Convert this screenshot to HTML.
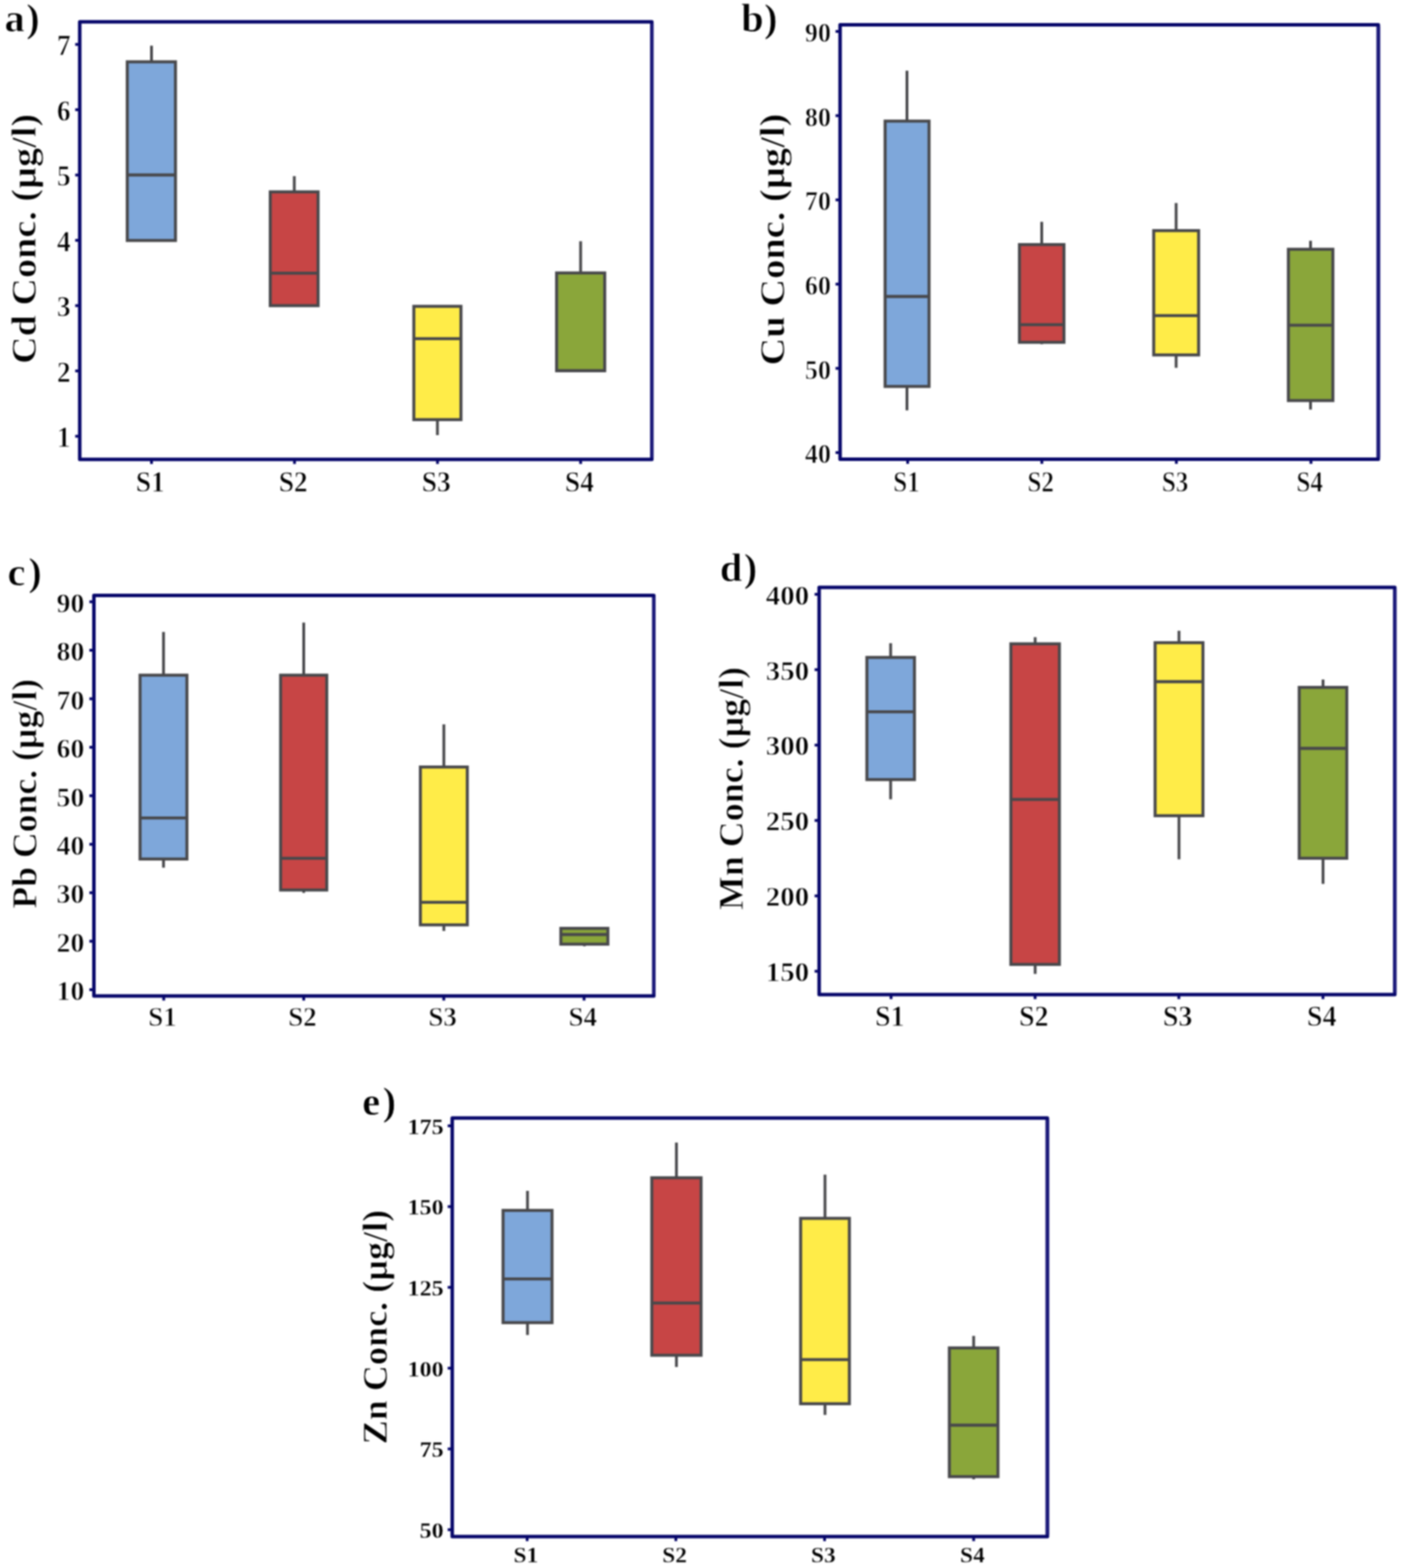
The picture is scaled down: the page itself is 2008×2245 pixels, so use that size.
<!DOCTYPE html>
<html><head><meta charset="utf-8"><title>Box plots</title>
<style>
html,body{margin:0;padding:0;background:#fff;}
body{width:2008px;height:2245px;overflow:hidden;}
svg{display:block;filter:blur(0.8px);}
text{font-family:'Liberation Serif', 'Times New Roman', serif;font-weight:bold;fill:#000;stroke:#fff;stroke-width:0.9px;}
.e text.tk{stroke-width:0.3px;}
</style></head><body>
<svg width="2008" height="2245" viewBox="0 0 2008 2245">
<rect x="0" y="0" width="2008" height="2245" fill="#fff"/>

<g id="panel-a" class="a">
<line x1="217" y1="65.4" x2="217" y2="88.5" stroke="#48484b" stroke-width="4"/>
<rect x="182.3" y="88.5" width="69" height="255.8" fill="#7ea7da" stroke="#48484b" stroke-width="4.3"/>
<line x1="182.3" y1="250.5" x2="251.3" y2="250.5" stroke="#48484b" stroke-width="4.3"/>
<line x1="421.5" y1="252.2" x2="421.5" y2="274.7" stroke="#48484b" stroke-width="4"/>
<rect x="387.1" y="274.7" width="68.5" height="162.9" fill="#c74545" stroke="#48484b" stroke-width="4.3"/>
<line x1="387.1" y1="391.2" x2="455.6" y2="391.2" stroke="#48484b" stroke-width="4.3"/>
<line x1="626.5" y1="600.8" x2="626.5" y2="623" stroke="#48484b" stroke-width="4"/>
<rect x="592.7" y="438.6" width="67.5" height="162.2" fill="#ffec48" stroke="#48484b" stroke-width="4.3"/>
<line x1="592.7" y1="484.9" x2="660.2" y2="484.9" stroke="#48484b" stroke-width="4.3"/>
<line x1="831.6" y1="345.4" x2="831.6" y2="390.8" stroke="#48484b" stroke-width="4"/>
<rect x="797.2" y="390.8" width="68.9" height="140" fill="#8aa63a" stroke="#48484b" stroke-width="4.3"/>
<line x1="797.2" y1="530.8" x2="866.1" y2="530.8" stroke="#48484b" stroke-width="4.3"/>
<rect x="114.2" y="31.3" width="819.4" height="626.5" fill="none" stroke="#06066a" stroke-width="5" stroke-linejoin="round"/>
<line x1="933.6" y1="33.8" x2="933.6" y2="655.3" stroke="#1c1a7a" stroke-width="5"/>
<line x1="107.7" y1="624.6" x2="114.2" y2="624.6" stroke="#06066a" stroke-width="4"/>
<line x1="107.7" y1="531.1" x2="114.2" y2="531.1" stroke="#06066a" stroke-width="4"/>
<line x1="107.7" y1="437.6" x2="114.2" y2="437.6" stroke="#06066a" stroke-width="4"/>
<line x1="107.7" y1="344.1" x2="114.2" y2="344.1" stroke="#06066a" stroke-width="4"/>
<line x1="107.7" y1="250.6" x2="114.2" y2="250.6" stroke="#06066a" stroke-width="4"/>
<line x1="107.7" y1="157.1" x2="114.2" y2="157.1" stroke="#06066a" stroke-width="4"/>
<line x1="107.7" y1="63.6" x2="114.2" y2="63.6" stroke="#06066a" stroke-width="4"/>
<line x1="217" y1="657.8" x2="217" y2="664.3" stroke="#06066a" stroke-width="4"/>
<line x1="421.8" y1="657.8" x2="421.8" y2="664.3" stroke="#06066a" stroke-width="4"/>
<line x1="626.6" y1="657.8" x2="626.6" y2="664.3" stroke="#06066a" stroke-width="4"/>
<line x1="831.6" y1="657.8" x2="831.6" y2="664.3" stroke="#06066a" stroke-width="4"/>
<text class="tk" text-anchor="end" font-size="39.4" transform="translate(101.3 640.1) scale(1 1.06)">1</text>
<text class="tk" text-anchor="end" font-size="39.4" transform="translate(101.3 546.6) scale(1 1.06)">2</text>
<text class="tk" text-anchor="end" font-size="39.4" transform="translate(101.3 453.1) scale(1 1.06)">3</text>
<text class="tk" text-anchor="end" font-size="39.4" transform="translate(101.3 359.6) scale(1 1.06)">4</text>
<text class="tk" text-anchor="end" font-size="39.4" transform="translate(101.3 266.1) scale(1 1.06)">5</text>
<text class="tk" text-anchor="end" font-size="39.4" transform="translate(101.3 172.6) scale(1 1.06)">6</text>
<text class="tk" text-anchor="end" font-size="39.4" transform="translate(101.3 79.1) scale(1 1.06)">7</text>
<text class="tk" text-anchor="middle" font-size="39.3" transform="translate(215.2 704.2) scale(1 1.063)">S1</text>
<text class="tk" text-anchor="middle" font-size="39.3" transform="translate(420 704.2) scale(1 1.063)">S2</text>
<text class="tk" text-anchor="middle" font-size="39.3" transform="translate(624.8 704.2) scale(1 1.063)">S3</text>
<text class="tk" text-anchor="middle" font-size="39.3" transform="translate(829.8 704.2) scale(1 1.063)">S4</text>
<text font-size="50" transform="translate(50.6 520.9) rotate(-90) scale(1.093 1)">Cd Conc. (µg/l)</text>
<text font-size="58" x="6.5" y="45">a<tspan dx="2">)</tspan></text>
</g>
<g id="panel-b" class="b">
<line x1="1299" y1="101.2" x2="1299" y2="173.4" stroke="#48484b" stroke-width="4"/>
<line x1="1299" y1="553.3" x2="1299" y2="587.5" stroke="#48484b" stroke-width="4"/>
<rect x="1267.7" y="173.4" width="62.9" height="379.9" fill="#7ea7da" stroke="#48484b" stroke-width="4.3"/>
<line x1="1267.7" y1="424.5" x2="1330.6" y2="424.5" stroke="#48484b" stroke-width="4.3"/>
<line x1="1492" y1="317.6" x2="1492" y2="350.2" stroke="#48484b" stroke-width="4"/>
<line x1="1492" y1="490.1" x2="1492" y2="492.7" stroke="#48484b" stroke-width="4"/>
<rect x="1460.1" y="350.2" width="63.7" height="139.9" fill="#c74545" stroke="#48484b" stroke-width="4.3"/>
<line x1="1460.1" y1="464.9" x2="1523.8" y2="464.9" stroke="#48484b" stroke-width="4.3"/>
<line x1="1684.5" y1="290.7" x2="1684.5" y2="330.2" stroke="#48484b" stroke-width="4"/>
<line x1="1684.5" y1="508.2" x2="1684.5" y2="526.6" stroke="#48484b" stroke-width="4"/>
<rect x="1652.4" y="330.2" width="64.3" height="178" fill="#ffec48" stroke="#48484b" stroke-width="4.3"/>
<line x1="1652.4" y1="451.9" x2="1716.7" y2="451.9" stroke="#48484b" stroke-width="4.3"/>
<line x1="1877" y1="344.7" x2="1877" y2="356.9" stroke="#48484b" stroke-width="4"/>
<line x1="1877" y1="573.5" x2="1877" y2="586.4" stroke="#48484b" stroke-width="4"/>
<rect x="1845.3" y="356.9" width="63.7" height="216.6" fill="#8aa63a" stroke="#48484b" stroke-width="4.3"/>
<line x1="1845.3" y1="465.7" x2="1909" y2="465.7" stroke="#48484b" stroke-width="4.3"/>
<rect x="1203.2" y="35.4" width="770.9" height="622.2" fill="none" stroke="#06066a" stroke-width="5" stroke-linejoin="round"/>
<line x1="1974.1" y1="37.9" x2="1974.1" y2="655.1" stroke="#1c1a7a" stroke-width="5"/>
<line x1="1196.7" y1="648" x2="1203.2" y2="648" stroke="#06066a" stroke-width="4"/>
<line x1="1196.7" y1="527.4" x2="1203.2" y2="527.4" stroke="#06066a" stroke-width="4"/>
<line x1="1196.7" y1="406.8" x2="1203.2" y2="406.8" stroke="#06066a" stroke-width="4"/>
<line x1="1196.7" y1="286.2" x2="1203.2" y2="286.2" stroke="#06066a" stroke-width="4"/>
<line x1="1196.7" y1="165.6" x2="1203.2" y2="165.6" stroke="#06066a" stroke-width="4"/>
<line x1="1196.7" y1="45" x2="1203.2" y2="45" stroke="#06066a" stroke-width="4"/>
<line x1="1300" y1="657.6" x2="1300" y2="664.1" stroke="#06066a" stroke-width="4"/>
<line x1="1492.2" y1="657.6" x2="1492.2" y2="664.1" stroke="#06066a" stroke-width="4"/>
<line x1="1684.8" y1="657.6" x2="1684.8" y2="664.1" stroke="#06066a" stroke-width="4"/>
<line x1="1877.6" y1="657.6" x2="1877.6" y2="664.1" stroke="#06066a" stroke-width="4"/>
<text class="tk" text-anchor="end" font-size="37.3" transform="translate(1190.1 663.2) scale(1 1.1)">40</text>
<text class="tk" text-anchor="end" font-size="37.3" transform="translate(1190.1 542.6) scale(1 1.1)">50</text>
<text class="tk" text-anchor="end" font-size="37.3" transform="translate(1190.1 422) scale(1 1.1)">60</text>
<text class="tk" text-anchor="end" font-size="37.3" transform="translate(1190.1 301.4) scale(1 1.1)">70</text>
<text class="tk" text-anchor="end" font-size="37.3" transform="translate(1190.1 180.8) scale(1 1.1)">80</text>
<text class="tk" text-anchor="end" font-size="37.3" transform="translate(1190.1 60.2) scale(1 1.1)">90</text>
<text class="tk" text-anchor="middle" font-size="36" transform="translate(1298.2 704.4) scale(1 1.16)">S1</text>
<text class="tk" text-anchor="middle" font-size="36" transform="translate(1490.4 704.4) scale(1 1.16)">S2</text>
<text class="tk" text-anchor="middle" font-size="36" transform="translate(1683 704.4) scale(1 1.16)">S3</text>
<text class="tk" text-anchor="middle" font-size="36" transform="translate(1875.8 704.4) scale(1 1.16)">S4</text>
<text font-size="50" transform="translate(1123 523.2) rotate(-90) scale(1.1015 1)">Cu Conc. (µg/l)</text>
<text font-size="58" x="1061.6" y="45">b<tspan dx="0.5">)</tspan></text>
</g>
<g id="panel-c" class="c">
<line x1="234.2" y1="904.8" x2="234.2" y2="966.7" stroke="#48484b" stroke-width="4"/>
<line x1="234.2" y1="1229.9" x2="234.2" y2="1242.3" stroke="#48484b" stroke-width="4"/>
<rect x="200.6" y="966.7" width="67.1" height="263.2" fill="#7ea7da" stroke="#48484b" stroke-width="4.3"/>
<line x1="200.6" y1="1171.1" x2="267.7" y2="1171.1" stroke="#48484b" stroke-width="4.3"/>
<line x1="435" y1="891.4" x2="435" y2="966.7" stroke="#48484b" stroke-width="4"/>
<line x1="435" y1="1274.3" x2="435" y2="1278.4" stroke="#48484b" stroke-width="4"/>
<rect x="401.9" y="966.7" width="66.1" height="307.6" fill="#c74545" stroke="#48484b" stroke-width="4.3"/>
<line x1="401.9" y1="1228.9" x2="468" y2="1228.9" stroke="#48484b" stroke-width="4.3"/>
<line x1="635.7" y1="1037.1" x2="635.7" y2="1098.2" stroke="#48484b" stroke-width="4"/>
<line x1="635.7" y1="1324.2" x2="635.7" y2="1332.9" stroke="#48484b" stroke-width="4"/>
<rect x="602.1" y="1098.2" width="67.2" height="226" fill="#ffec48" stroke="#48484b" stroke-width="4.3"/>
<line x1="602.1" y1="1291.9" x2="669.3" y2="1291.9" stroke="#48484b" stroke-width="4.3"/>
<line x1="837" y1="1351.8" x2="837" y2="1354.8" stroke="#48484b" stroke-width="4"/>
<rect x="803.3" y="1329.2" width="67.3" height="22.6" fill="#8aa63a" stroke="#48484b" stroke-width="4.3"/>
<line x1="803.3" y1="1338" x2="870.6" y2="1338" stroke="#48484b" stroke-width="4.3"/>
<rect x="134.5" y="852.6" width="801.9" height="573.4" fill="none" stroke="#06066a" stroke-width="5" stroke-linejoin="round"/>
<line x1="936.4" y1="855.1" x2="936.4" y2="1423.5" stroke="#1c1a7a" stroke-width="5"/>
<line x1="128" y1="1417" x2="134.5" y2="1417" stroke="#06066a" stroke-width="4"/>
<line x1="128" y1="1347.6" x2="134.5" y2="1347.6" stroke="#06066a" stroke-width="4"/>
<line x1="128" y1="1278.2" x2="134.5" y2="1278.2" stroke="#06066a" stroke-width="4"/>
<line x1="128" y1="1208.8" x2="134.5" y2="1208.8" stroke="#06066a" stroke-width="4"/>
<line x1="128" y1="1139.3" x2="134.5" y2="1139.3" stroke="#06066a" stroke-width="4"/>
<line x1="128" y1="1069.9" x2="134.5" y2="1069.9" stroke="#06066a" stroke-width="4"/>
<line x1="128" y1="1000.5" x2="134.5" y2="1000.5" stroke="#06066a" stroke-width="4"/>
<line x1="128" y1="931" x2="134.5" y2="931" stroke="#06066a" stroke-width="4"/>
<line x1="128" y1="861.6" x2="134.5" y2="861.6" stroke="#06066a" stroke-width="4"/>
<line x1="234.5" y1="1426" x2="234.5" y2="1432.5" stroke="#06066a" stroke-width="4"/>
<line x1="435" y1="1426" x2="435" y2="1432.5" stroke="#06066a" stroke-width="4"/>
<line x1="635.6" y1="1426" x2="635.6" y2="1432.5" stroke="#06066a" stroke-width="4"/>
<line x1="836.5" y1="1426" x2="836.5" y2="1432.5" stroke="#06066a" stroke-width="4"/>
<text class="tk" text-anchor="end" font-size="39.7" transform="translate(120.8 1432.3) scale(1 1.034)">10</text>
<text class="tk" text-anchor="end" font-size="39.7" transform="translate(120.8 1362.9) scale(1 1.034)">20</text>
<text class="tk" text-anchor="end" font-size="39.7" transform="translate(120.8 1293.4) scale(1 1.034)">30</text>
<text class="tk" text-anchor="end" font-size="39.7" transform="translate(120.8 1224) scale(1 1.034)">40</text>
<text class="tk" text-anchor="end" font-size="39.7" transform="translate(120.8 1154.6) scale(1 1.034)">50</text>
<text class="tk" text-anchor="end" font-size="39.7" transform="translate(120.8 1085.1) scale(1 1.034)">60</text>
<text class="tk" text-anchor="end" font-size="39.7" transform="translate(120.8 1015.7) scale(1 1.034)">70</text>
<text class="tk" text-anchor="end" font-size="39.7" transform="translate(120.8 946.3) scale(1 1.034)">80</text>
<text class="tk" text-anchor="end" font-size="39.7" transform="translate(120.8 876.9) scale(1 1.034)">90</text>
<text class="tk" text-anchor="middle" font-size="38.7" transform="translate(232.7 1469) scale(1 1.018)">S1</text>
<text class="tk" text-anchor="middle" font-size="38.7" transform="translate(433.2 1469) scale(1 1.018)">S2</text>
<text class="tk" text-anchor="middle" font-size="38.7" transform="translate(633.8 1469) scale(1 1.018)">S3</text>
<text class="tk" text-anchor="middle" font-size="38.7" transform="translate(834.7 1469) scale(1 1.018)">S4</text>
<text font-size="50" transform="translate(51.8 1301) rotate(-90) scale(1.0225 1)">Pb Conc. (µg/l)</text>
<text font-size="58" x="10.8" y="837.5">c<tspan dx="4">)</tspan></text>
</g>
<g id="panel-d" class="d">
<line x1="1275.6" y1="920.9" x2="1275.6" y2="941.3" stroke="#48484b" stroke-width="4"/>
<line x1="1275.6" y1="1116.2" x2="1275.6" y2="1144.4" stroke="#48484b" stroke-width="4"/>
<rect x="1241.6" y="941.3" width="68.1" height="174.9" fill="#7ea7da" stroke="#48484b" stroke-width="4.3"/>
<line x1="1241.6" y1="1019.2" x2="1309.7" y2="1019.2" stroke="#48484b" stroke-width="4.3"/>
<line x1="1482.6" y1="912.3" x2="1482.6" y2="921.8" stroke="#48484b" stroke-width="4"/>
<line x1="1482.6" y1="1380.8" x2="1482.6" y2="1394.4" stroke="#48484b" stroke-width="4"/>
<rect x="1447.8" y="921.8" width="69.5" height="459" fill="#c74545" stroke="#48484b" stroke-width="4.3"/>
<line x1="1447.8" y1="1144.6" x2="1517.3" y2="1144.6" stroke="#48484b" stroke-width="4.3"/>
<line x1="1688.6" y1="903.1" x2="1688.6" y2="920.2" stroke="#48484b" stroke-width="4"/>
<line x1="1688.6" y1="1167.9" x2="1688.6" y2="1230.3" stroke="#48484b" stroke-width="4"/>
<rect x="1654.4" y="920.2" width="68.5" height="247.7" fill="#ffec48" stroke="#48484b" stroke-width="4.3"/>
<line x1="1654.4" y1="976" x2="1722.9" y2="976" stroke="#48484b" stroke-width="4.3"/>
<line x1="1894.9" y1="972.9" x2="1894.9" y2="984.2" stroke="#48484b" stroke-width="4"/>
<line x1="1894.9" y1="1228.8" x2="1894.9" y2="1265.5" stroke="#48484b" stroke-width="4"/>
<rect x="1860.8" y="984.2" width="68.1" height="244.6" fill="#8aa63a" stroke="#48484b" stroke-width="4.3"/>
<line x1="1860.8" y1="1071.5" x2="1928.9" y2="1071.5" stroke="#48484b" stroke-width="4.3"/>
<rect x="1173.2" y="841" width="824.5" height="583" fill="none" stroke="#06066a" stroke-width="5" stroke-linejoin="round"/>
<line x1="1997.7" y1="843.5" x2="1997.7" y2="1421.5" stroke="#1c1a7a" stroke-width="5"/>
<line x1="1166.7" y1="1390.6" x2="1173.2" y2="1390.6" stroke="#06066a" stroke-width="4"/>
<line x1="1166.7" y1="1282.7" x2="1173.2" y2="1282.7" stroke="#06066a" stroke-width="4"/>
<line x1="1166.7" y1="1174.7" x2="1173.2" y2="1174.7" stroke="#06066a" stroke-width="4"/>
<line x1="1166.7" y1="1066.8" x2="1173.2" y2="1066.8" stroke="#06066a" stroke-width="4"/>
<line x1="1166.7" y1="958.8" x2="1173.2" y2="958.8" stroke="#06066a" stroke-width="4"/>
<line x1="1166.7" y1="850.9" x2="1173.2" y2="850.9" stroke="#06066a" stroke-width="4"/>
<line x1="1276.2" y1="1424" x2="1276.2" y2="1430.5" stroke="#06066a" stroke-width="4"/>
<line x1="1482.5" y1="1424" x2="1482.5" y2="1430.5" stroke="#06066a" stroke-width="4"/>
<line x1="1688.4" y1="1424" x2="1688.4" y2="1430.5" stroke="#06066a" stroke-width="4"/>
<line x1="1894.8" y1="1424" x2="1894.8" y2="1430.5" stroke="#06066a" stroke-width="4"/>
<text class="tk" text-anchor="end" font-size="41.3" transform="translate(1158.8 1405.2) scale(1 0.97)">150</text>
<text class="tk" text-anchor="end" font-size="41.3" transform="translate(1158.8 1297.3) scale(1 0.97)">200</text>
<text class="tk" text-anchor="end" font-size="41.3" transform="translate(1158.8 1189.3) scale(1 0.97)">250</text>
<text class="tk" text-anchor="end" font-size="41.3" transform="translate(1158.8 1081.4) scale(1 0.97)">300</text>
<text class="tk" text-anchor="end" font-size="41.3" transform="translate(1158.8 973.5) scale(1 0.97)">350</text>
<text class="tk" text-anchor="end" font-size="41.3" transform="translate(1158.8 865.5) scale(1 0.97)">400</text>
<text class="tk" text-anchor="middle" font-size="40.1" transform="translate(1274.4 1468.9) scale(1 1.03)">S1</text>
<text class="tk" text-anchor="middle" font-size="40.1" transform="translate(1480.7 1468.9) scale(1 1.03)">S2</text>
<text class="tk" text-anchor="middle" font-size="40.1" transform="translate(1686.6 1468.9) scale(1 1.03)">S3</text>
<text class="tk" text-anchor="middle" font-size="40.1" transform="translate(1893 1468.9) scale(1 1.03)">S4</text>
<text font-size="50" transform="translate(1064.2 1302.9) rotate(-90) scale(1.0285 1)">Mn Conc. (µg/l)</text>
<text font-size="58" x="1031" y="831.6">d<tspan dx="2">)</tspan></text>
</g>
<g id="panel-e" class="e">
<line x1="755.5" y1="1705" x2="755.5" y2="1733" stroke="#48484b" stroke-width="4"/>
<line x1="755.5" y1="1893.7" x2="755.5" y2="1911.4" stroke="#48484b" stroke-width="4"/>
<rect x="720.5" y="1733" width="70.1" height="160.7" fill="#7ea7da" stroke="#48484b" stroke-width="4.3"/>
<line x1="720.5" y1="1831.1" x2="790.6" y2="1831.1" stroke="#48484b" stroke-width="4.3"/>
<line x1="968.8" y1="1635.9" x2="968.8" y2="1686.3" stroke="#48484b" stroke-width="4"/>
<line x1="968.8" y1="1940.4" x2="968.8" y2="1957.2" stroke="#48484b" stroke-width="4"/>
<rect x="933.5" y="1686.3" width="70.6" height="254.1" fill="#c74545" stroke="#48484b" stroke-width="4.3"/>
<line x1="933.5" y1="1865.7" x2="1004.1" y2="1865.7" stroke="#48484b" stroke-width="4.3"/>
<line x1="1181.6" y1="1681.8" x2="1181.6" y2="1744.4" stroke="#48484b" stroke-width="4"/>
<line x1="1181.6" y1="2009.8" x2="1181.6" y2="2025.8" stroke="#48484b" stroke-width="4"/>
<rect x="1146.7" y="1744.4" width="69.8" height="265.4" fill="#ffec48" stroke="#48484b" stroke-width="4.3"/>
<line x1="1146.7" y1="1946.7" x2="1216.5" y2="1946.7" stroke="#48484b" stroke-width="4.3"/>
<line x1="1394.5" y1="1912.7" x2="1394.5" y2="1929.9" stroke="#48484b" stroke-width="4"/>
<line x1="1394.5" y1="2114.2" x2="1394.5" y2="2118" stroke="#48484b" stroke-width="4"/>
<rect x="1359.7" y="1929.9" width="69.6" height="184.3" fill="#8aa63a" stroke="#48484b" stroke-width="4.3"/>
<line x1="1359.7" y1="2040.5" x2="1429.3" y2="2040.5" stroke="#48484b" stroke-width="4.3"/>
<rect x="647.7" y="1600.8" width="852.4" height="599.2" fill="none" stroke="#06066a" stroke-width="5" stroke-linejoin="round"/>
<line x1="1500.1" y1="1603.3" x2="1500.1" y2="2197.5" stroke="#1c1a7a" stroke-width="5"/>
<line x1="641.2" y1="2190.2" x2="647.7" y2="2190.2" stroke="#06066a" stroke-width="4"/>
<line x1="641.2" y1="2074.5" x2="647.7" y2="2074.5" stroke="#06066a" stroke-width="4"/>
<line x1="641.2" y1="1958.9" x2="647.7" y2="1958.9" stroke="#06066a" stroke-width="4"/>
<line x1="641.2" y1="1843.2" x2="647.7" y2="1843.2" stroke="#06066a" stroke-width="4"/>
<line x1="641.2" y1="1727.6" x2="647.7" y2="1727.6" stroke="#06066a" stroke-width="4"/>
<line x1="641.2" y1="1611.9" x2="647.7" y2="1611.9" stroke="#06066a" stroke-width="4"/>
<line x1="755" y1="2200" x2="755" y2="2206.5" stroke="#06066a" stroke-width="4"/>
<line x1="968" y1="2200" x2="968" y2="2206.5" stroke="#06066a" stroke-width="4"/>
<line x1="1181" y1="2200" x2="1181" y2="2206.5" stroke="#06066a" stroke-width="4"/>
<line x1="1394.5" y1="2200" x2="1394.5" y2="2206.5" stroke="#06066a" stroke-width="4"/>
<text class="tk" text-anchor="end" font-size="34.3" transform="translate(635.3 2202) scale(1 0.9)">50</text>
<text class="tk" text-anchor="end" font-size="34.3" transform="translate(635.3 2086.4) scale(1 0.9)">75</text>
<text class="tk" text-anchor="end" font-size="34.3" transform="translate(635.3 1970.7) scale(1 0.9)">100</text>
<text class="tk" text-anchor="end" font-size="34.3" transform="translate(635.3 1855.1) scale(1 0.9)">125</text>
<text class="tk" text-anchor="end" font-size="34.3" transform="translate(635.3 1739.4) scale(1 0.9)">150</text>
<text class="tk" text-anchor="end" font-size="34.3" transform="translate(635.3 1623.7) scale(1 0.9)">175</text>
<text class="tk" text-anchor="middle" font-size="33.3" transform="translate(753.2 2237.2) scale(1 0.94)">S1</text>
<text class="tk" text-anchor="middle" font-size="33.3" transform="translate(966.2 2237.2) scale(1 0.94)">S2</text>
<text class="tk" text-anchor="middle" font-size="33.3" transform="translate(1179.2 2237.2) scale(1 0.94)">S3</text>
<text class="tk" text-anchor="middle" font-size="33.3" transform="translate(1392.7 2237.2) scale(1 0.94)">S4</text>
<text font-size="50" transform="translate(554 2067.9) rotate(-90) scale(1.034 1)">Zn Conc. (µg/l)</text>
<text font-size="58" x="518.8" y="1595.9">e<tspan dx="3.5">)</tspan></text>
</g>
</svg>
</body></html>
